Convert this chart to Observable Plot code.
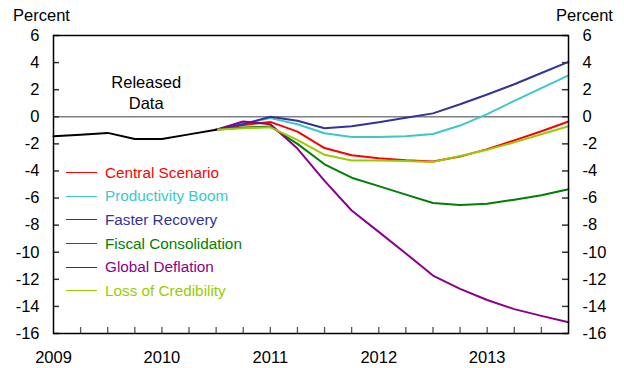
<!DOCTYPE html>
<html><head><meta charset="utf-8">
<script src="https://cdn.jsdelivr.net/npm/d3@7"></script>
<script src="https://cdn.jsdelivr.net/npm/@observablehq/plot@0.6"></script>
<style>
body{margin:0;background:#fff;}
#wrap{position:relative;width:624px;height:368px;font-family:"Liberation Sans",Arial,sans-serif;}
#legend{position:absolute;left:66px;top:161px;}
.row{display:flex;align-items:center;height:23.6px;font-size:15.3px;white-space:nowrap;}
.sw{width:31px;height:0;border-top:1.5px solid;margin-right:8px;}
</style></head><body><div id="wrap"><div id="legend"></div></div>
<script>
// Quarterly dates (released data, then scenario projections)
const releasedDates = [2009.0, 2009.25, 2009.5, 2009.75, 2010.0, 2010.25, 2010.5];
const releasedValues = [-1.44, -1.32, -1.19, -1.64, -1.64, -1.3, -0.95];
const scenarioDates = [2010.5, 2010.75, 2011.0, 2011.25, 2011.5, 2011.75, 2012.0, 2012.25, 2012.5, 2012.75, 2013.0, 2013.25, 2013.5, 2013.75];

const seriesNames = ["Central Scenario", "Productivity Boom", "Faster Recovery", "Fiscal Consolidation", "Global Deflation", "Loss of Credibility"];
const seriesColors = ["#ff0000", "#3cc8c8", "#333399", "#008000", "#8b008b", "#99cc00"];

const central = [-0.95, -0.6, -0.38, -1.1, -2.31, -2.84, -3.06, -3.21, -3.31, -2.94, -2.39, -1.74, -1.07, -0.35];
const productivity = [-0.95, -0.5, -0.1, -0.55, -1.22, -1.49, -1.49, -1.44, -1.27, -0.65, 0.2, 1.17, 2.11, 3.05];
const faster = [-0.95, -0.55, 0.0, -0.3, -0.85, -0.7, -0.4, -0.07, 0.25, 0.92, 1.64, 2.4, 3.23, 4.05];
const fiscal = [-0.95, -0.8, -0.72, -2.0, -3.51, -4.5, -5.12, -5.75, -6.37, -6.52, -6.42, -6.12, -5.8, -5.35];
const deflation = [-0.95, -0.35, -0.55, -2.35, -4.73, -6.92, -8.5, -10.09, -11.72, -12.71, -13.53, -14.2, -14.7, -15.17];
const credibility = [-0.95, -0.85, -0.78, -1.7, -2.81, -3.23, -3.23, -3.26, -3.33, -2.89, -2.44, -1.89, -1.29, -0.7];

const yTicks = [-16, -14, -12, -10, -8, -6, -4, -2, 0, 2, 4, 6];
const yearTicks = [2009, 2010, 2011, 2012, 2013];
const quarterTicks = [2009.25, 2009.5, 2009.75, 2010, 2010.25, 2010.5, 2010.75, 2011, 2011.25, 2011.5, 2011.75, 2012, 2012.25, 2012.5, 2012.75, 2013, 2013.25, 2013.5];
const annotations = [{label: "Released\nData", x: 2009.855, y: 1.85}];

const seriesValues = [central, productivity, faster, fiscal, deflation, credibility];
const rows = [];
seriesNames.forEach((name, i) => seriesValues[i].forEach((v, j) => rows.push({series: name, date: scenarioDates[j], value: v})));
const released = releasedDates.map((d, i) => ({date: d, value: releasedValues[i]}));

const W = 624, H = 368, mL = 53, mR = 56, mT = 35, mB = 35;
const frameW = W - mL - mR, frameH = H - mT - mB, tick = 6;
const fmt = d => String(d);
const chart = Plot.plot({
  width: W, height: H,
  marginLeft: mL, marginRight: mR, marginTop: mT, marginBottom: mB,
  style: {fontFamily: "'Liberation Sans', Arial, sans-serif", fontSize: "16.5px", color: "#000", background: "#fff", overflow: "visible"},
  x: {domain: [2009, 2013.75]},
  y: {domain: [-16, 6]},
  color: {domain: seriesNames, range: seriesColors},
  marks: [
    Plot.ruleY([0], {stroke: "#808080", strokeWidth: 1.5}),
    // inward tick marks
    Plot.tickY(yTicks, {y: d => d, insetRight: frameW - tick, stroke: "#333", strokeWidth: 1.5}),
    Plot.tickY(yTicks, {y: d => d, insetLeft: frameW - tick, stroke: "#333", strokeWidth: 1.5}),
    Plot.tickX(quarterTicks, {x: d => d, insetTop: frameH - tick, stroke: "#555", strokeWidth: 1.3}),
    // tick labels
    Plot.axisY({anchor: "left", ticks: yTicks, tickSize: 0, tickPadding: 14, tickFormat: fmt, label: null, fontSize: 16.5}),
    Plot.axisY({anchor: "right", ticks: yTicks, tickSize: 0, tickPadding: 14, tickFormat: fmt, label: null, fontSize: 16.5}),
    Plot.axisX({ticks: yearTicks, tickSize: 0, tickPadding: 18, tickFormat: fmt, label: null, fontSize: 16.5}),
    Plot.line(rows, {x: "date", y: "value", z: "series", stroke: "series", strokeWidth: 2}),
    Plot.line(released, {x: "date", y: "value", stroke: "#000", strokeWidth: 2}),
    Plot.text(annotations, {x: "x", y: "y", text: "label", fontSize: 16.5, lineHeight: 1.25, fill: "#000"}),
    Plot.text(["Percent"], {text: d => d, frameAnchor: "top-left", textAnchor: "middle", lineAnchor: "middle", dx: -12, dy: -20, fontSize: 16.5}),
    Plot.text(["Percent"], {text: d => d, frameAnchor: "top-right", textAnchor: "middle", lineAnchor: "middle", dx: 16, dy: -20, fontSize: 16.5}),
    Plot.frame({stroke: "#000", strokeWidth: 1.5})
  ]
});
document.getElementById("wrap").prepend(chart);

const legend = document.getElementById("legend");
seriesNames.forEach((name, i) => {
  const row = document.createElement("div");
  row.className = "row";
  row.style.color = seriesColors[i];
  const sw = document.createElement("span");
  sw.className = "sw";
  sw.style.borderTopColor = seriesColors[i];
  const t = document.createElement("span");
  t.textContent = name;
  row.append(sw, t);
  legend.append(row);
});
</script></body></html>
